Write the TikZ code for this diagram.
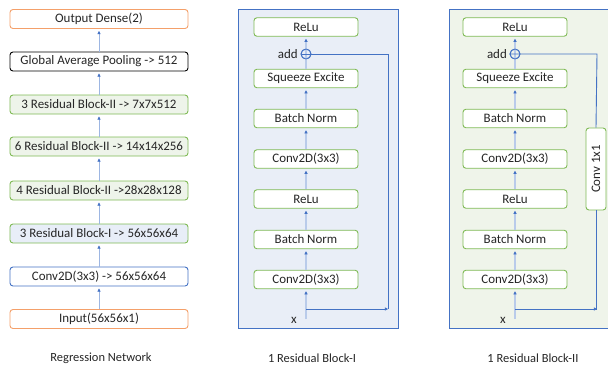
\documentclass[tikz,border=0pt]{standalone}
\usepackage{fontspec}
\setmainfont{Carlito}
\usetikzlibrary{arrows.meta}
\definecolor{cOrange}{HTML}{F4A06A}
\definecolor{cGreen}{HTML}{7FBA55}
\definecolor{cBlue}{HTML}{4472C4}
\definecolor{cLine}{HTML}{9DB6E2}
\definecolor{cFlow}{HTML}{B9CBEA}
\definecolor{cPanelA}{HTML}{E9EEF7}
\definecolor{cPanelB}{HTML}{EFF4EA}
\definecolor{cFillI}{HTML}{E8EEF8}
\definecolor{cFillII}{HTML}{EEF4EA}
\definecolor{cText}{HTML}{262626}
\tikzset{
  lbox/.style={draw, rounded corners=3bp, line width=0.9bp, fill=white,
    minimum width=178bp, minimum height=19bp, inner sep=0pt, text=cText,
    font=\fontsize{13}{15}\selectfont},
  rbox/.style={lbox, draw=cGreen, minimum width=104bp, minimum height=18.5bp},
  tip/.style={-{Triangle[length=3.2bp,width=3.2bp,color=cBlue]}},
  upline/.style={tip, draw=cLine, line width=0.7bp, shorten >=2bp},
  flow/.style={tip, draw=cFlow, line width=1.6bp, shorten >=2bp},
  skip/.style={draw=cBlue, line width=0.9bp},
  caption/.style={font=\fontsize{12.5}{14}\selectfont, text=cText},
  lbl/.style={font=\fontsize{13}{15}\selectfont, inner sep=1pt, text=cText}
}
\begin{document}
\begin{tikzpicture}[x=1bp,y=-1bp]
\useasboundingbox (0,0) rectangle (608,364);

% ---------- regression network ----------
\node[lbox, draw=cOrange] (out) at (99,19) {Output Dense(2)};
\node[lbox, draw=black] (gap) at (99,61.5) {Global Average Pooling -> 512};
\node[lbox, draw=cGreen, fill=cFillII] (r3) at (99,104.5) {3 Residual Block-II -> 7x7x512};
\node[lbox, draw=cGreen, fill=cFillII] (r6) at (99,146.5) {6 Residual Block-II -> 14x14x256};
\node[lbox, draw=cGreen, fill=cFillII] (r4) at (99,190.5) {4 Residual Block-II ->28x28x128};
\node[lbox, draw=cGreen, fill=cFillI] (r1) at (99,233.5) {3 Residual Block-I -> 56x56x64};
\node[lbox, draw=cBlue] (conv) at (99,276.5) {Conv2D(3x3) -> 56x56x64};
\node[lbox, draw=cOrange] (inp) at (99,319) {Input(56x56x1)};
\foreach \a/\b in {inp/conv, conv/r1, r1/r4, r4/r6, r6/r3, r3/gap, gap/out}
  \draw[upline] (\a.north) -- (\b.south);
\node[caption] (capA) at (101,358) {Regression Network};

% ---------- residual block I ----------
\fill[cPanelA] (238,9) rectangle (398,328);
\draw[cBlue, line width=0.9bp] (238,9) rectangle (398,328);
\node[rbox] (aRelu2) at (306,27) {ReLu};
\node[draw=cBlue, line width=0.8bp, circle, minimum size=10bp, inner sep=0pt] (aAdd) at (306,54) {};
\node[lbl, anchor=east] (aAddL) at (299,54) {add};
\node[rbox] (aSE) at (306,78.5) {Squeeze Excite};
\node[rbox] (aBN2) at (306,118.5) {Batch Norm};
\node[rbox] (aConv2) at (306,159) {Conv2D(3x3)};
\node[rbox] (aRelu1) at (306,199) {ReLu};
\node[rbox] (aBN1) at (306,239.5) {Batch Norm};
\node[rbox] (aConv1) at (306,279.5) {Conv2D(3x3)};
\node[lbl] (aX) at (294,320) {x};
\coordinate (aIn) at (306,319);
\coordinate (aFork) at (306,309);
\coordinate (aC1) at (388,309);
\coordinate (aC2) at (388,54);
\draw[flow] (aIn) -- (aConv1.south);
\foreach \a/\b in {aConv1/aBN1, aBN1/aRelu1, aRelu1/aConv2, aConv2/aBN2, aBN2/aSE, aSE/aRelu2}
  \draw[flow] (\a.north) -- (\b.south);
\draw[skip, tip] (aFork) -- (aC1);
\draw[skip] (aC1) -- (aC2) -- (aAdd.west);
\node[draw=cBlue, line width=0.8bp, circle, minimum size=10bp, inner sep=0pt] at (aAdd) {};
\node[caption] (capB) at (312,358) {1 Residual Block-I};

% ---------- residual block II ----------
\fill[cPanelB] (449,9) rectangle (608,328);
\draw[cBlue, line width=0.9bp] (608,9) -- (449,9) -- (449,328) -- (608,328);
\node[rbox] (bRelu2) at (515,27) {ReLu};
\node[draw=cBlue, line width=0.8bp, circle, minimum size=10bp, inner sep=0pt] (bAdd) at (515,54) {};
\node[lbl, anchor=east] (bAddL) at (508,54) {add};
\node[rbox] (bSE) at (515,78.5) {Squeeze Excite};
\node[rbox] (bBN2) at (515,118.5) {Batch Norm};
\node[rbox] (bConv2) at (515,159) {Conv2D(3x3)};
\node[rbox] (bRelu1) at (515,199) {ReLu};
\node[rbox] (bBN1) at (515,239.5) {Batch Norm};
\node[rbox] (bConv1) at (515,279.5) {Conv2D(3x3)};
\node[rbox, rotate=90, minimum width=82bp, minimum height=20bp] (bProj) at (596,169) {Conv 1x1};
\node[lbl] (bX) at (503,320) {x};
\coordinate (bIn) at (515,319);
\coordinate (bFork) at (515,309);
\coordinate (bC1) at (597,309);
\coordinate (bC2) at (597,54);
\draw[flow] (bIn) -- (bConv1.south);
\foreach \a/\b in {bConv1/bBN1, bBN1/bRelu1, bRelu1/bConv2, bConv2/bBN2, bBN2/bSE, bSE/bRelu2}
  \draw[flow] (\a.north) -- (\b.south);
\draw[skip, tip] (bFork) -- (bC1);
\draw[skip] (bC1) -- (bProj.west |- bC1) -- (bProj.west);
\draw[skip] (bProj.east) -- (bC2) -- (bAdd.west);
\node[draw=cBlue, line width=0.8bp, circle, minimum size=10bp, inner sep=0pt] at (bAdd) {};
\node[caption] (capC) at (533,358) {1 Residual Block-II};
\end{tikzpicture}
\end{document}
